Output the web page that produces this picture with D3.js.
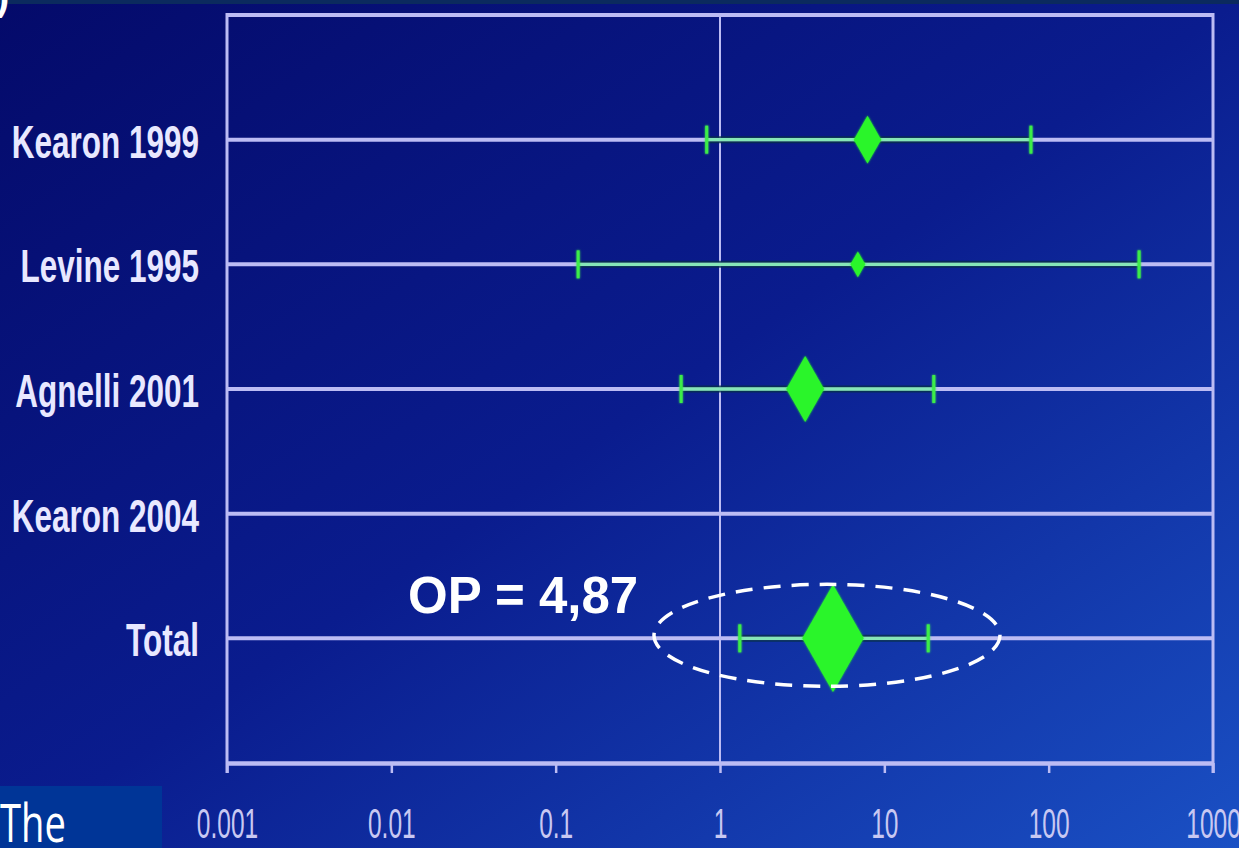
<!DOCTYPE html>
<html><head><meta charset="utf-8">
<script src="https://cdn.jsdelivr.net/npm/d3@7"></script>
<style>html,body{margin:0;padding:0;background:#06107a;overflow:hidden}</style>
</head><body>
<svg id="chart" width="1239" height="848"></svg>
<script>
// Forest plot: odds ratios with 95% CI per study, log scale
const studies   = ["Kearon 1999", "Levine 1995", "Agnelli 2001", "Kearon 2004", "Total"];
const oddsRatio = [7.9, 6.9, 3.3, null, 4.87];
const ciLower   = [0.83, 0.137, 0.58, null, 1.32];
const ciUpper   = [78, 355, 20, null, 18.5];
const weights   = [31, 9, 59, null, 100];
const tickValues = [0.001, 0.01, 0.1, 1, 10, 100, 1000];
const tickLabels = ["0.001", "0.01", "0.1", "1", "10", "100", "1000"];
const summaryLabel = "OP";

const W = 1239, H = 848;
const plotLeft = 227, plotRight = 1213, plotTop = 15, plotBottom = 763;
const gridColor = "#bcbcf4";

const svg = d3.select("#chart");
const defs = svg.append("defs");

const bg = defs.append("linearGradient").attr("id", "bg")
  .attr("x1", 0).attr("y1", 0).attr("x2", 1).attr("y2", 1);
bg.append("stop").attr("offset", 0).attr("stop-color", "#040a6a");
bg.append("stop").attr("offset", 0.5).attr("stop-color", "#0a1c8e");
bg.append("stop").attr("offset", 1).attr("stop-color", "#1a50c4");

const glow = defs.append("filter").attr("id", "glow")
  .attr("x", "-20%").attr("y", "-40%").attr("width", "140%").attr("height", "180%");
glow.append("feGaussianBlur").attr("in", "SourceGraphic").attr("stdDeviation", 1.3).attr("result", "b");
const gm = glow.append("feMerge");
gm.append("feMergeNode").attr("in", "b");
gm.append("feMergeNode").attr("in", "SourceGraphic");

svg.append("rect").attr("width", W).attr("height", H).attr("fill", "url(#bg)");
svg.append("rect").attr("width", W).attr("height", 4).attr("fill", "#0b2a5e");

const x = d3.scaleLog().domain([0.001, 1000]).range([plotLeft, plotRight]);
const y = d3.scalePoint().domain(studies).range([plotTop, plotBottom]).padding(1);
const size = d3.scaleSqrt().domain([0, 100]).range([0, 43]);

const rows = studies.map((s, i) => ({
  study: s, or: oddsRatio[i], lo: ciLower[i], hi: ciUpper[i], w: weights[i],
  summary: i === studies.length - 1
}));

// row guide lines
svg.append("g").selectAll("line").data(rows).join("line")
  .attr("x1", plotLeft).attr("x2", plotRight)
  .attr("y1", d => y(d.study)).attr("y2", d => y(d.study))
  .attr("stroke", gridColor).attr("stroke-width", 4);

// frame
const frame = svg.append("g").attr("stroke", gridColor).attr("fill", "none");
frame.append("line").attr("x1", plotLeft).attr("x2", plotRight).attr("y1", plotTop).attr("y2", plotTop).attr("stroke-width", 4);
frame.append("line").attr("x1", plotLeft).attr("x2", plotLeft).attr("y1", plotTop - 2).attr("y2", plotBottom + 10).attr("stroke-width", 3);
frame.append("line").attr("x1", plotRight).attr("x2", plotRight).attr("y1", plotTop - 2).attr("y2", plotBottom + 10).attr("stroke-width", 3);

// line of no effect
svg.append("line").attr("x1", x(1)).attr("x2", x(1)).attr("y1", plotTop).attr("y2", plotBottom)
  .attr("stroke", gridColor).attr("stroke-width", 2);

// x axis
const axis = svg.append("g").attr("transform", `translate(0,${plotBottom})`)
  .call(d3.axisBottom(x).tickValues(tickValues).tickFormat((d, i) => tickLabels[i]).tickSize(10).tickSizeOuter(0));
axis.select(".domain").attr("stroke", gridColor).attr("stroke-width", 4.5);
axis.selectAll(".tick line").attr("stroke", gridColor).attr("stroke-width", 2.5);
axis.selectAll(".tick text")
  .attr("y", 75).attr("dy", 0)
  .attr("transform", "scale(0.57,1)")
  .attr("fill", "#c8c8f2")
  .style("font-family", "'Liberation Sans', Arial, sans-serif")
  .style("font-size", "43px");

const data = rows.filter(d => d.or != null);

// confidence intervals
const ci = svg.append("g");
ci.selectAll("line.shadow").data(data).join("line").attr("class", "shadow")
  .attr("x1", d => x(d.lo)).attr("x2", d => x(d.hi))
  .attr("y1", d => y(d.study)).attr("y2", d => y(d.study))
  .attr("stroke", "#06304a").attr("stroke-opacity", 0.8).attr("stroke-width", 7);
ci.selectAll("line.core").data(data).join("line").attr("class", "core")
  .attr("x1", d => x(d.lo)).attr("x2", d => x(d.hi))
  .attr("y1", d => y(d.study)).attr("y2", d => y(d.study))
  .attr("stroke", "#86e6b8").attr("stroke-width", 3.4);

// CI end caps
const caps = svg.append("g").attr("filter", "url(#glow)");
data.forEach(d => {
  [d.lo, d.hi].forEach(v => {
    caps.append("line")
      .attr("x1", x(v)).attr("x2", x(v))
      .attr("y1", y(d.study) - 14).attr("y2", y(d.study) + 14)
      .attr("stroke", "#3cec4a").attr("stroke-width", 3);
  });
});

// point estimates as diamonds, sized by weight
svg.append("g").attr("filter", "url(#glow)")
  .selectAll("path").data(data).join("path")
  .attr("d", d => {
    const h = size(d.w) * (d.summary ? 1.25 : 1);
    const w = h * 0.57;
    const cx = x(d.or), cy = y(d.study);
    return `M${cx},${cy - h}L${cx + w},${cy}L${cx},${cy + h}L${cx - w},${cy}Z`;
  })
  .attr("fill", "#2cf52c");

// study labels
svg.append("g").selectAll("text").data(rows).join("text")
  .attr("transform", d => `translate(199,${y(d.study) + 18}) scale(0.67,1)`)
  .attr("text-anchor", "end")
  .attr("fill", "#e8e8ff")
  .style("font-family", "'Liberation Sans', Arial, sans-serif")
  .style("font-weight", "bold")
  .style("font-size", "47px")
  .text(d => d.study);

// pooled estimate annotation
const total = rows[rows.length - 1];
svg.append("ellipse")
  .attr("cx", x(total.or) - 6).attr("cy", y(total.study) - 3)
  .attr("rx", 173).attr("ry", 51)
  .attr("fill", "none").attr("stroke", "#ffffff")
  .attr("stroke-width", 3.5).attr("stroke-dasharray", "17 11");
svg.append("text")
  .attr("x", 408).attr("y", 613)
  .attr("fill", "#ffffff")
  .style("font-family", "'Liberation Sans', Arial, sans-serif")
  .style("font-weight", "bold")
  .style("font-size", "51px")
  .text(`${summaryLabel} = ${String(total.or).replace(".", ",")}`);

// caption box at lower left
svg.append("rect").attr("x", 0).attr("y", 786).attr("width", 162).attr("height", H - 786).attr("fill", "#003597");
svg.append("text")
  .attr("transform", "translate(0,842) scale(0.72,1)")
  .attr("fill", "#ffffff")
  .style("font-family", "'Open Sans', sans-serif")
  .style("font-size", "53px")
  .text("The");

// panel marker at top-left corner
svg.append("text")
  .attr("x", -4).attr("y", 10)
  .attr("fill", "#ffffff")
  .style("font-family", "'Liberation Sans', Arial, sans-serif")
  .style("font-weight", "bold")
  .style("font-size", "40px")
  .text(")");
</script>
</body></html>
